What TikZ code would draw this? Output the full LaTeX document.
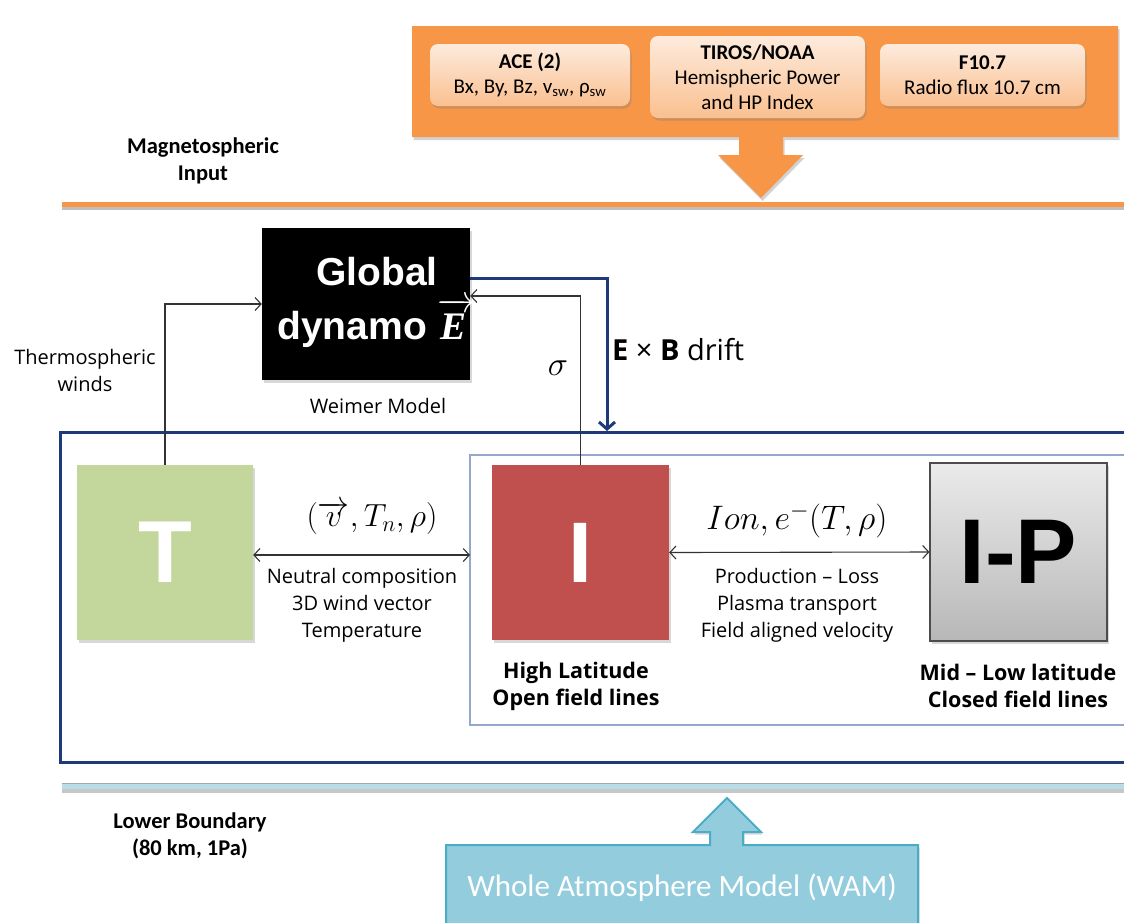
\RequirePackage{fix-cm}
\documentclass[tikz,border=0pt]{standalone}
\usepackage{fontspec}
\setmainfont{Carlito}
\newfontfamily\osans{Open Sans}
\newfontfamily\arial{Liberation Sans}
\newfontfamily\tnr{Liberation Serif}
\usetikzlibrary{arrows.meta,shadows,calc}
\newcommand\myfs[2]{\fontsize{#1}{#2}\selectfont}
\newcommand\vecE{{$\overrightarrow{\mbox{\tnr\itshape E\,\rule{0pt}{0.7em}}}$}}
\definecolor{orangeC}{HTML}{F79646}
\definecolor{boxtop}{HTML}{FDEBDD}
\definecolor{boxbot}{HTML}{FAC090}
\definecolor{navyC}{HTML}{1F3A78}
\definecolor{frameC}{HTML}{95A8CB}
\definecolor{lblue}{HTML}{B7DEE8}
\definecolor{wamC}{HTML}{93CDDD}
\definecolor{wamB}{HTML}{4BACC6}
\definecolor{greenC}{HTML}{C3D69B}
\definecolor{redC}{HTML}{C0504D}
\begin{document}
\begin{tikzpicture}[x=1pt,y=-1pt,
  conn/.style={draw=black!80, line width=1.1pt, -{Straight Barb[length=6pt,width=13pt]}},
  dconn/.style={draw=black!80, line width=1.1pt, {Straight Barb[length=6pt,width=13pt]}-{Straight Barb[length=6pt,width=13pt]}},
  ebarrow/.style={draw=navyC, line width=3pt, -{Straight Barb[length=7pt,width=16pt]}},
  obox/.style={rounded corners=8pt, top color=boxtop, bottom color=boxbot, draw=none,
    drop shadow={shadow xshift=1.5pt,shadow yshift=-2.5pt,opacity=.35},
    minimum height=62pt, inner sep=0pt, align=center, font=\myfs{21}{25}},
  bigbox/.style={minimum width=176pt, minimum height=175pt, inner sep=0pt,
    drop shadow={shadow xshift=1.5pt,shadow yshift=-2.5pt,opacity=.3}},
  reg/.style={font=\osans\myfs{20}{27}, align=center, inner sep=0pt},
  boldlab/.style={font=\osans\bfseries\myfs{21.5}{27}, align=center, inner sep=0pt},
  calbold/.style={font=\bfseries\myfs{22.5}{27}, align=center, inner sep=0pt},
  mathlab/.style={inner sep=0pt}]
\useasboundingbox (0,0) rectangle (1124,922);
\fill[white] (0,0) rectangle (1124,922);

% magnetospheric input panel with block arrow
\path[fill=orangeC, drop shadow={shadow xshift=1.5pt,shadow yshift=-3pt,opacity=.35}]
  (412,26) -- (1118,26) -- (1118,137) -- (783,137) -- (783,155) -- (803,155) -- (761,198)
  -- (718,155) -- (739,155) -- (739,137) -- (412,137) -- cycle;
\node[obox, minimum width=200pt] (ace) at (530,75) {\textbf{ACE (2)}\\Bx, By, Bz, v\textsubscript{sw}, ρ\textsubscript{sw}};
\node[obox, minimum width=215pt, minimum height=82pt] (tiros) at (757.5,77) {\textbf{TIROS/NOAA}\\Hemispheric Power\\and HP Index};
\node[obox, minimum width=205pt] (f107) at (982.5,75) {\textbf{F10.7}\\Radio flux 10.7 cm};

% orange rule
\fill[black!25] (62,205) rectangle (1124,210);
\fill[orangeC] (62,202) rectangle (1124,207);
\node[calbold] (magin) at (203,161) {Magnetospheric\\Input};

% global dynamo
\node[fill=black, minimum width=208pt, minimum height=152pt, inner sep=0pt,
  drop shadow={shadow xshift=1.5pt,shadow yshift=-2.5pt,opacity=.3}] (dyn) at (366,304) {};
\node[font=\arial\bfseries\myfs{39}{54}, text=white, align=center, inner sep=0pt] (dyntxt) at (377,302)
  {Global\\dynamo \vecE};
\node[reg] (weimer) at (378,406) {Weimer Model};
\node[reg] (thw) at (85,370) {Thermospheric\\winds};

% frames
\draw[navyC, line width=3pt] (1130,432) -- (60,432) -- (60,762) -- (1130,762);
\draw[frameC, line width=2pt] (1130,455) -- (470,455) -- (470,725) -- (1130,725);

% model boxes
\node[bigbox, fill=greenC, text=white, font=\arial\bfseries\myfs{88}{88}] (T) at (165,552.5) {T};
\node[bigbox, fill=redC, minimum width=177pt, text=white, font=\arial\bfseries\myfs{86}{86}] (I) at (580.5,552.5) {I};
\node[bigbox, minimum width=177pt, minimum height=178pt, draw=black!70, line width=1.2pt,
  top color=black!8, bottom color=black!28, font=\arial\bfseries\myfs{92}{92}] (IP) at (1018.5,552) {I-P};

% connectors
\draw[conn] (T.north) |- (dyn.west);
\draw[conn] (I.north) |- ([yshift=8pt]dyn.east);
\coordinate (ebtip) at (607,431);
\draw[ebarrow] ([yshift=26pt]dyn.east) -| (ebtip);
\node[mathlab, font=\myfs{34}{34}] (sig) at (558,368) {$\sigma$};
\node[font=\osans\myfs{29}{32}, anchor=west, inner sep=0pt] (exb) at (612,350) {\textbf{E} × \textbf{B} drift};

\coordinate (inL) at (470,555);
\draw[dconn] (T.east |- inL) -- (inL);
\node[mathlab, font=\myfs{32}{32}] (tlab) at (372,518) {$(\overrightarrow{v}, T_n, \rho)$};
\node[reg] (tdesc) at (362,605) {Neutral composition\\3D wind vector\\Temperature};

\draw[dconn] (I.east) -- (IP.west);
\node[mathlab, font=\myfs{34}{34}] (ilab) at (797,521) {$Ion, e^{-}(T, \rho)$};
\node[reg] (idesc) at (797,605) {Production – Loss\\Plasma transport\\Field aligned velocity};

\node[boldlab] (hl) at (576,686) {High Latitude\\Open field lines};
\node[boldlab] (ml) at (1018,686) {Mid – Low latitude\\Closed field lines};

% lower boundary rule
\fill[black!22] (62,787) rectangle (1124,793);
\fill[lblue] (62,783) rectangle (1124,789);
\draw[black!35, line width=0.8pt] (62,783) -- (1124,783);
\node[calbold] (lb) at (190,836) {Lower Boundary\\(80 km, 1Pa)};

% WAM block arrow
\path[fill=wamC, draw=wamB, line width=2pt, drop shadow={shadow xshift=1.5pt,shadow yshift=-2.5pt,opacity=.3}]
  (446,930) -- (446,845) -- (710,845) -- (710,832) -- (693,832) -- (727,798) -- (761,832)
  -- (743,832) -- (743,845) -- (918,845) -- (918,930);
\node[text=white, font=\myfs{31}{31}, inner sep=0pt] (wam) at (682,888) {Whole Atmosphere Model (WAM)};
\end{tikzpicture}
\end{document}
